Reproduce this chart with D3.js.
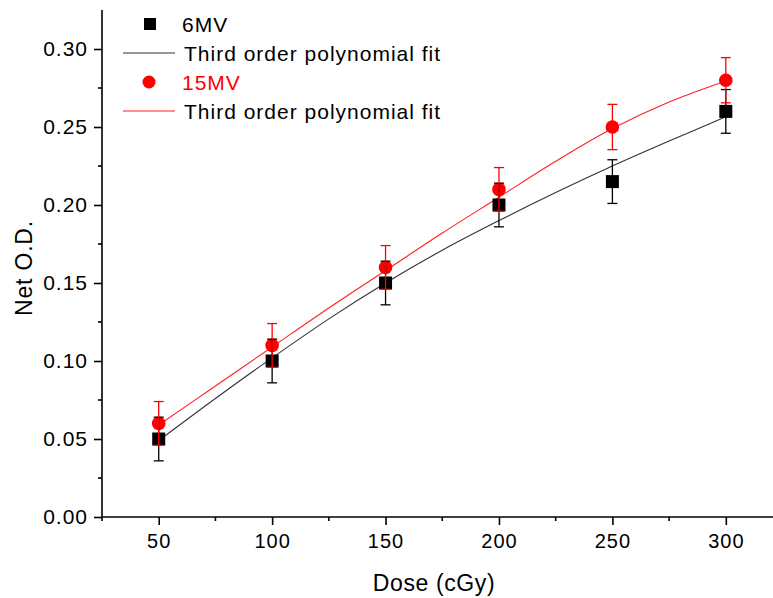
<!DOCTYPE html>
<html>
<head>
<meta charset="utf-8">
<script src="https://cdn.jsdelivr.net/npm/d3@7"></script>
<style>
  body { margin: 0; background: #fff; }
  text { font-family: Arial, "Liberation Sans", sans-serif; }
</style>
</head>
<body>
<div id="chart"></div>
<script>
  // data
  var dose = [50, 100, 150, 200, 250, 300];
  var od6 = [0.050, 0.100, 0.150, 0.200, 0.215, 0.260];
  var err6 = [0.014, 0.014, 0.014, 0.014, 0.014, 0.014];
  var od15 = [0.060, 0.110, 0.160, 0.210, 0.250, 0.280];
  var err15 = [0.014, 0.014, 0.014, 0.014, 0.0145, 0.0145];

  // polynomial fit curves as they appear in the figure
  var fitDose = [50, 75, 100, 125, 150, 175, 200, 225, 250, 275, 300];
  var fit6 = [0.049, 0.076, 0.102, 0.127, 0.150, 0.171, 0.190, 0.208, 0.225, 0.241, 0.2565];
  var fit15 = [0.059, 0.084, 0.109, 0.134, 0.158, 0.182, 0.205, 0.228, 0.249, 0.266, 0.2795];

  var xTicks = [50, 100, 150, 200, 250, 300];
  var yTicks = [0, 0.05, 0.10, 0.15, 0.20, 0.25, 0.30];

  var W = 773, H = 598;
  var plotL = 102, plotT = 10, plotB = 517, plotR = 773;

  var svg = d3.select("#chart").append("svg")
    .attr("width", W).attr("height", H);

  var x = d3.scaleLinear().domain([25, 320.8]).range([plotL, plotR]);
  var y = d3.scaleLinear().domain([0, 0.325]).range([plotB, plotT]);

  // x axis
  var xAxis = svg.append("g")
    .attr("transform", "translate(0," + plotB + ")");
  xAxis.call(d3.axisBottom(x).tickValues(xTicks).tickSize(8).tickPadding(9).tickFormat(d3.format("d")));
  xAxis.selectAll(".tick text").style("font-size", "20px").style("letter-spacing", "1px").attr("fill", "#000");
  xAxis.select(".domain").attr("d", "M" + plotL + ",0H" + plotR).attr("stroke-width", 1.6);
  xAxis.selectAll(".tick line").attr("stroke-width", 1.6);
  xAxis.selectAll(".minor").data([25, 75, 125, 175, 225, 275]).enter()
    .append("line").attr("class", "minor")
    .attr("x1", function(d) { return x(d); }).attr("x2", function(d) { return x(d); })
    .attr("y1", 0).attr("y2", 4).attr("stroke", "#000").attr("stroke-width", 1.6);

  // y axis
  var yAxis = svg.append("g")
    .attr("transform", "translate(" + plotL + ",0)");
  yAxis.call(d3.axisLeft(y).tickValues(yTicks).tickSize(8).tickPadding(6).tickFormat(d3.format(".2f")));
  yAxis.selectAll(".tick text").style("font-size", "21px").style("letter-spacing", "1px").attr("fill", "#000");
  yAxis.select(".domain").attr("d", "M0," + plotT + "V" + plotB).attr("stroke-width", 1.6);
  yAxis.selectAll(".tick line").attr("stroke-width", 1.6);
  yAxis.selectAll(".minor").data([0.025, 0.075, 0.125, 0.175, 0.225, 0.275]).enter()
    .append("line").attr("class", "minor")
    .attr("y1", function(d) { return y(d); }).attr("y2", function(d) { return y(d); })
    .attr("x1", 0).attr("x2", -4).attr("stroke", "#000").attr("stroke-width", 1.6);

  // axis titles
  svg.append("text")
    .attr("x", 434).attr("y", 591)
    .attr("text-anchor", "middle")
    .style("font-size", "23px").style("letter-spacing", "0.6px")
    .text("Dose (cGy)");
  svg.append("text")
    .attr("transform", "translate(32,268) rotate(-90)")
    .attr("text-anchor", "middle")
    .style("font-size", "23px").style("letter-spacing", "0.8px")
    .text("Net O.D.");

  // fit lines
  var line = d3.line()
    .x(function(d, i) { return x(fitDose[i]); })
    .y(function(d) { return y(d); })
    .curve(d3.curveCatmullRom);
  svg.append("path").attr("d", line(fit6))
    .attr("fill", "none").attr("stroke", "#333").attr("stroke-width", 1.1);
  svg.append("path").attr("d", line(fit15))
    .attr("fill", "none").attr("stroke", "#ff2020").attr("stroke-width", 1.1);

  // markers
  svg.selectAll(".sq").data(od6).enter().append("rect")
    .attr("x", function(d, i) { return x(dose[i]) - 6.5; })
    .attr("y", function(d) { return y(d) - 6.5; })
    .attr("width", 13).attr("height", 13)
    .attr("fill", "#000");
  svg.selectAll(".ci").data(od15).enter().append("circle")
    .attr("cx", function(d, i) { return x(dose[i]); })
    .attr("cy", function(d) { return y(d); })
    .attr("r", 6.8)
    .attr("fill", "#ff0000");

  // error bars
  function errorBars(vals, errs, color) {
    var g = svg.append("g").attr("stroke", color).attr("stroke-width", 1.3);
    vals.forEach(function(v, i) {
      var cx = x(dose[i]);
      g.append("line").attr("x1", cx).attr("x2", cx)
        .attr("y1", y(v - errs[i])).attr("y2", y(v + errs[i]));
      g.append("line").attr("x1", cx - 5).attr("x2", cx + 5)
        .attr("y1", y(v - errs[i])).attr("y2", y(v - errs[i]));
      g.append("line").attr("x1", cx - 5).attr("x2", cx + 5)
        .attr("y1", y(v + errs[i])).attr("y2", y(v + errs[i]));
    });
  }
  errorBars(od6, err6, "#000");
  errorBars(od15, err15, "#ff0000");

  // legend
  var lg = svg.append("g").style("font-size", "21px").style("letter-spacing", "1px");
  lg.append("rect").attr("x", 144).attr("y", 18).attr("width", 12).attr("height", 12).attr("fill", "#000");
  lg.append("text").attr("x", 182).attr("y", 32).text("6MV");
  lg.append("line").attr("x1", 123).attr("x2", 175).attr("y1", 53).attr("y2", 53)
    .attr("stroke", "#333").attr("stroke-width", 1.1);
  lg.append("text").attr("x", 184).attr("y", 61).text("Third order polynomial fit");
  lg.append("circle").attr("cx", 149).attr("cy", 82).attr("r", 6.5).attr("fill", "#ff0000");
  lg.append("text").attr("x", 182).attr("y", 90).attr("fill", "#ff0000").text("15MV");
  lg.append("line").attr("x1", 123).attr("x2", 175).attr("y1", 111).attr("y2", 111)
    .attr("stroke", "#ff2020").attr("stroke-width", 1.1);
  lg.append("text").attr("x", 184).attr("y", 119).text("Third order polynomial fit");
</script>
</body>
</html>
